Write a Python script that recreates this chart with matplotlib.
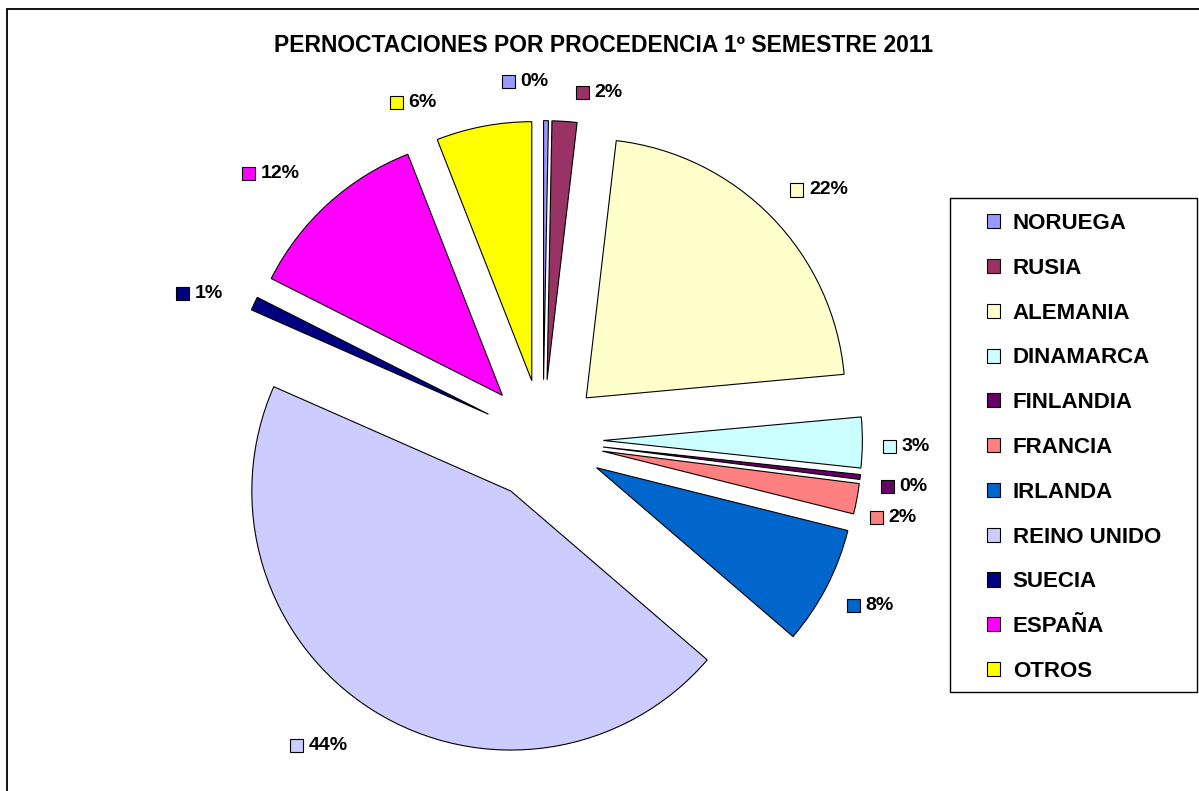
import matplotlib
matplotlib.use("Agg")
import matplotlib.pyplot as plt
import numpy as np
from matplotlib.patches import Rectangle
from matplotlib.offsetbox import AnnotationBbox, HPacker, TextArea, DrawingArea

plt.rcParams['font.family'] = ['Liberation Sans', 'DejaVu Sans']

# ---------------- data ----------------
title = "PERNOCTACIONES POR PROCEDENCIA 1º SEMESTRE 2011"
countries = ["NORUEGA", "RUSIA", "ALEMANIA", "DINAMARCA", "FINLANDIA", "FRANCIA",
             "IRLANDA", "REINO UNIDO", "SUECIA", "ESPAÑA", "OTROS"]
shares = [0.3, 1.55, 21.7, 3.15, 0.3, 1.9, 7.4, 45.3, 0.85, 11.6, 5.95]
pct_labels = ["0%", "2%", "22%", "3%", "0%", "2%", "8%", "44%", "1%", "12%", "6%"]
colors = ["#9999FF", "#993366", "#FFFFCC", "#CCFFFF", "#660066", "#FF8080",
          "#0066CC", "#CCCCFF", "#000080", "#FF00FF", "#FFFF00"]

# ---------------- layout (label placement tweaks, like Excel's best fit) ----------------
label_nudge_deg = [3.4, -5.3, -2.1, -0.6, -0.7, -1.8, 0.6, -4.0, 2.2, 3.3, 10.3]
label_dist = [1.386, 1.358, 1.438, 1.403, 1.407, 1.385, 1.416, 1.464, 1.441, 1.469, 1.395]
explode_frac = 0.233

W, H = 1199, 791
fig = plt.figure(figsize=(W / 100, H / 100), dpi=100)
fig.patch.set_facecolor("white")

cx, cy, R = 543, 440, 259
lim = 1.6
half = lim * R
ax = fig.add_axes([(cx - half) / W, (H - cy - half) / H, 2 * half / W, 2 * half / H])

wedges, _ = ax.pie(shares, colors=colors, explode=[explode_frac] * len(shares),
                   startangle=90, counterclock=False, radius=1,
                   wedgeprops=dict(edgecolor="black", linewidth=0.8))
ax.set_xlim(-lim, lim)
ax.set_ylim(-lim, lim)
ax.axis("off")

# percentage labels with colour key squares
for w, lab, col, nud, dist in zip(wedges, pct_labels, colors, label_nudge_deg, label_dist):
    th = np.deg2rad((w.theta1 + w.theta2) / 2 + nud)
    pos = (dist * np.cos(th), dist * np.sin(th))
    da = DrawingArea(9.5, 9.5, 0, 0)
    da.add_artist(Rectangle((0, 0), 9.5, 9.5, facecolor=col, edgecolor="black", linewidth=0.8))
    ta = TextArea(lab, textprops=dict(fontsize=14, fontweight="bold", color="black"))
    box = HPacker(children=[da, ta], align="center", pad=0, sep=4)
    ab = AnnotationBbox(box, pos, xycoords="data", frameon=False, box_alignment=(0.5, 0.5), pad=0)
    ax.add_artist(ab)

# title
fig.text(604 / W, 1 - 45 / H, title, ha="center", va="center",
         fontsize=16.5, fontweight="bold", color="black")

# legend
leg = fig.legend(wedges, countries, loc="upper left",
                 bbox_to_anchor=(974 / W, 1 - 200 / H), bbox_transform=fig.transFigure,
                 frameon=False, borderaxespad=0, borderpad=0.59, labelspacing=1.07,
                 handlelength=0.6, handleheight=0.6, handletextpad=0.55,
                 prop=dict(size=16, weight="bold"))

# legend frame
fig.patches.append(Rectangle((950 / W, 1 - 692 / H), 247 / W, 494 / H,
                             transform=fig.transFigure, fill=False,
                             edgecolor="black", linewidth=1.0))
# outer chart frame
fig.patches.append(Rectangle((7 / W, -0.05), 1.2, (H - 9) / H + 0.05,
                             transform=fig.transFigure, fill=False,
                             edgecolor="black", linewidth=1.3))

fig.savefig("out.png", dpi=100)
